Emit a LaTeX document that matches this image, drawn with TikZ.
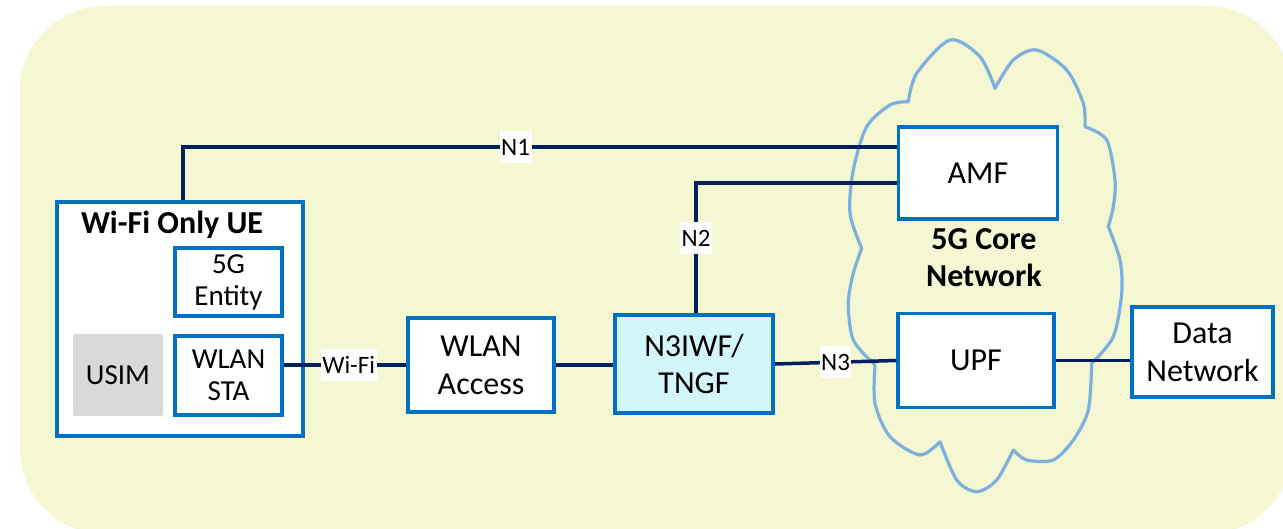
\documentclass[tikz,border=0pt]{standalone}
\usepackage{fontspec}
\setmainfont{Carlito}
\definecolor{boxblue}{HTML}{0070C0}
\definecolor{linkcol}{HTML}{002060}
\definecolor{cloudcol}{HTML}{7DB0DD}
\definecolor{bgcol}{HTML}{F4F7D2}
\definecolor{nfill}{HTML}{D3F6FC}
\definecolor{usimcol}{HTML}{D9D9D9}
\tikzset{
  box/.style={draw=boxblue, line width=3.5pt, fill=white, align=center, inner sep=0pt,
    font=\fontsize{32}{38}\selectfont},
  smallbox/.style={box, font=\fontsize{29}{32}\selectfont},
  link/.style={draw=linkcol, line width=3.5pt},
  lbl/.style={fill=white, inner xsep=1.5pt, inner ysep=0pt, minimum height=32pt,
    font=\fontsize{25}{30}\selectfont},
  boldtxt/.style={font=\fontsize{32}{37}\selectfont\bfseries, align=center, inner sep=0pt},
  cloudline/.style={draw=cloudcol, line width=3.2pt, line join=round, line cap=round}
}
\begin{document}
\begin{tikzpicture}[x=1pt,y=-1pt]
\useasboundingbox (0,0) rectangle (1283,529);
\clip (0,0) rectangle (1283,529);
\fill[bgcol, rounded corners=85pt] (20,6) rectangle (1292,534);

% cloud
\draw[cloudline]
  plot[smooth] coordinates {(908.3,101.7) (916.7,73.3) (950,40) (980,56.7) (995,88.3)}
  plot[smooth] coordinates {(995,88.3) (1013.3,60) (1036.7,50) (1066.7,70) (1083.3,103.3) (1085,126.7)}
  plot[smooth] coordinates {(1085,126.7) (1106.7,140) (1115,180) (1113.3,206.7) (1108.3,226.7)}
  plot[smooth] coordinates {(1108.3,226.7) (1120,260) (1121.7,293.3) (1113.3,336.7) (1091.7,363.3)}
  plot[smooth] coordinates {(1091.7,363.3) (1088.3,410) (1073.3,440) (1053.3,460) (1026.7,460) (1013.3,450)}
  plot[smooth] coordinates {(1013.3,450) (996.7,480) (976.7,491.7) (956.7,480) (940,441.7)}
  plot[smooth] coordinates {(940,441.7) (920,455) (890,436.7) (875,403.3) (875,365)}
  plot[smooth] coordinates {(875,365) (853.3,340) (848.3,303.3) (853.3,273.3) (861.7,248.3)}
  plot[smooth] coordinates {(861.7,248.3) (850,213.3) (853.3,170) (866.7,126.7) (890,105) (908.3,101.7)};

% UE
\node[box, minimum width=246pt, minimum height=234pt] (ue) at (180,319) {};
\node[boldtxt] (uetitle) at (172,225) {Wi-Fi Only UE};
\node[smallbox, minimum width=107pt, minimum height=68pt] (ent) at (228.5,282) {5G\\Entity};
\node[smallbox, minimum width=107pt, minimum height=79pt] (sta) at (228.5,375.5) {WLAN\\STA};
\node[fill=usimcol, rounded corners=2pt, minimum width=90pt, minimum height=82pt, inner sep=0pt,
  font=\fontsize{29}{32}\selectfont] (usim) at (118,375) {USIM};

% access and core
\node[box, minimum width=146pt, minimum height=94pt] (acc) at (481,365) {WLAN\\Access};
\node[box, fill=nfill, minimum width=158pt, minimum height=98pt] (n3iwf) at (694,364) {N3IWF/\\TNGF};
\node[box, minimum width=159pt, minimum height=92pt] (amf) at (978,173) {AMF};
\node[box, minimum width=156pt, minimum height=94pt] (upf) at (976,360.5) {UPF};
\node[box, minimum width=141pt, minimum height=90pt] (dn) at (1202.5,352) {Data\\Network};
\node[boldtxt] (core) at (984,258) {5G Core\\Network};

% connectors
\draw[link] ([xshift=3pt]ue.north) |- node[lbl, pos=0.733] {N1} ([yshift=-22pt]amf.north west);
\draw[link] ([xshift=2pt]n3iwf.north) |- node[lbl, pos=0.288] {N2} ([yshift=-58pt]amf.north west);
\draw[link] (sta.east |- acc.west) -- node[lbl, pos=0.53] {Wi-Fi} (acc.west);
\draw[link] (acc.east) -- (acc.east -| n3iwf.west);
\draw[link] (n3iwf.east) -- node[lbl] {N3} (upf.west);
\draw[link] (upf.east) -- (upf.east -| dn.west);
\end{tikzpicture}
\end{document}
